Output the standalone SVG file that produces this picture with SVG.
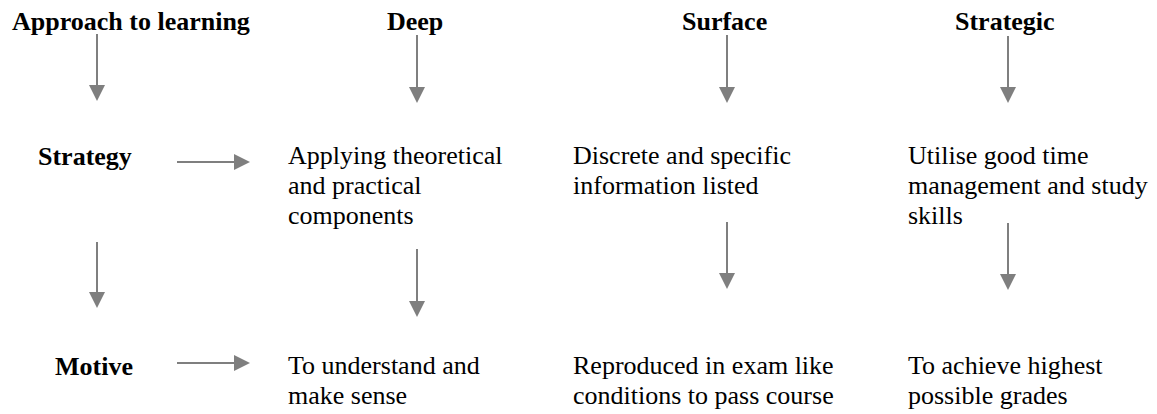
<svg xmlns="http://www.w3.org/2000/svg" width="1157" height="414" viewBox="0 0 1157 414">
  <style>
    .h { font-family: "Liberation Serif", "Times New Roman", serif; font-size: 26px; font-weight: bold; fill: #000; }
    .t { font-family: "Liberation Serif", "Times New Roman", serif; font-size: 26px; fill: #000; }
    .c { stroke: #7f7f7f; stroke-width: 2; fill: none; marker-end: url(#arr); }
  </style>
  <defs>
    <marker id="arr" markerUnits="userSpaceOnUse" markerWidth="16" markerHeight="16" refX="12" refY="8" orient="auto">
      <path d="M0,0 L16,8 L0,16 Z" fill="#7f7f7f"/>
    </marker>
  </defs>
  <rect width="1157" height="414" fill="#ffffff"/>

  <g id="approach"><text class="h" x="12" y="30">Approach to learning</text></g>
  <g id="deep"><text class="h" x="387" y="30">Deep</text></g>
  <g id="surface"><text class="h" x="682" y="30">Surface</text></g>
  <g id="strategic"><text class="h" x="955" y="30">Strategic</text></g>

  <g id="strategy"><text class="h" x="38" y="165">Strategy</text></g>
  <g id="deep-strategy"><text class="t" x="288"><tspan x="288" y="164">Applying theoretical</tspan><tspan x="288" y="194">and practical</tspan><tspan x="288" y="224">components</tspan></text></g>
  <g id="surface-strategy"><text class="t" x="573"><tspan x="573" y="164">Discrete and specific</tspan><tspan x="573" y="194">information listed</tspan></text></g>
  <g id="strategic-strategy"><text class="t" x="908"><tspan x="908" y="164">Utilise good time</tspan><tspan x="908" y="194">management and study</tspan><tspan x="908" y="224">skills</tspan></text></g>

  <g id="motive"><text class="h" x="55" y="375">Motive</text></g>
  <g id="deep-motive"><text class="t" x="288"><tspan x="288" y="374">To understand and</tspan><tspan x="288" y="404">make sense</tspan></text></g>
  <g id="surface-motive"><text class="t" x="573"><tspan x="573" y="374">Reproduced in exam like</tspan><tspan x="573" y="404">conditions to pass course</tspan></text></g>
  <g id="strategic-motive"><text class="t" x="908"><tspan x="908" y="374">To achieve highest</tspan><tspan x="908" y="404">possible grades</tspan></text></g>

  <g id="connectors">
    <line class="c" x1="97" y1="34" x2="97" y2="97"/>
    <line class="c" x1="417" y1="35" x2="417" y2="99"/>
    <line class="c" x1="727" y1="35" x2="727" y2="99"/>
    <line class="c" x1="1008" y1="36" x2="1008" y2="99"/>

    <line class="c" x1="177" y1="162" x2="246" y2="162"/>
    <line class="c" x1="177" y1="363" x2="246" y2="363"/>

    <line class="c" x1="97" y1="242" x2="97" y2="304"/>
    <line class="c" x1="417" y1="249" x2="417" y2="313"/>
    <line class="c" x1="727" y1="222" x2="727" y2="285"/>
    <line class="c" x1="1008" y1="223" x2="1008" y2="286"/>
  </g>
</svg>
